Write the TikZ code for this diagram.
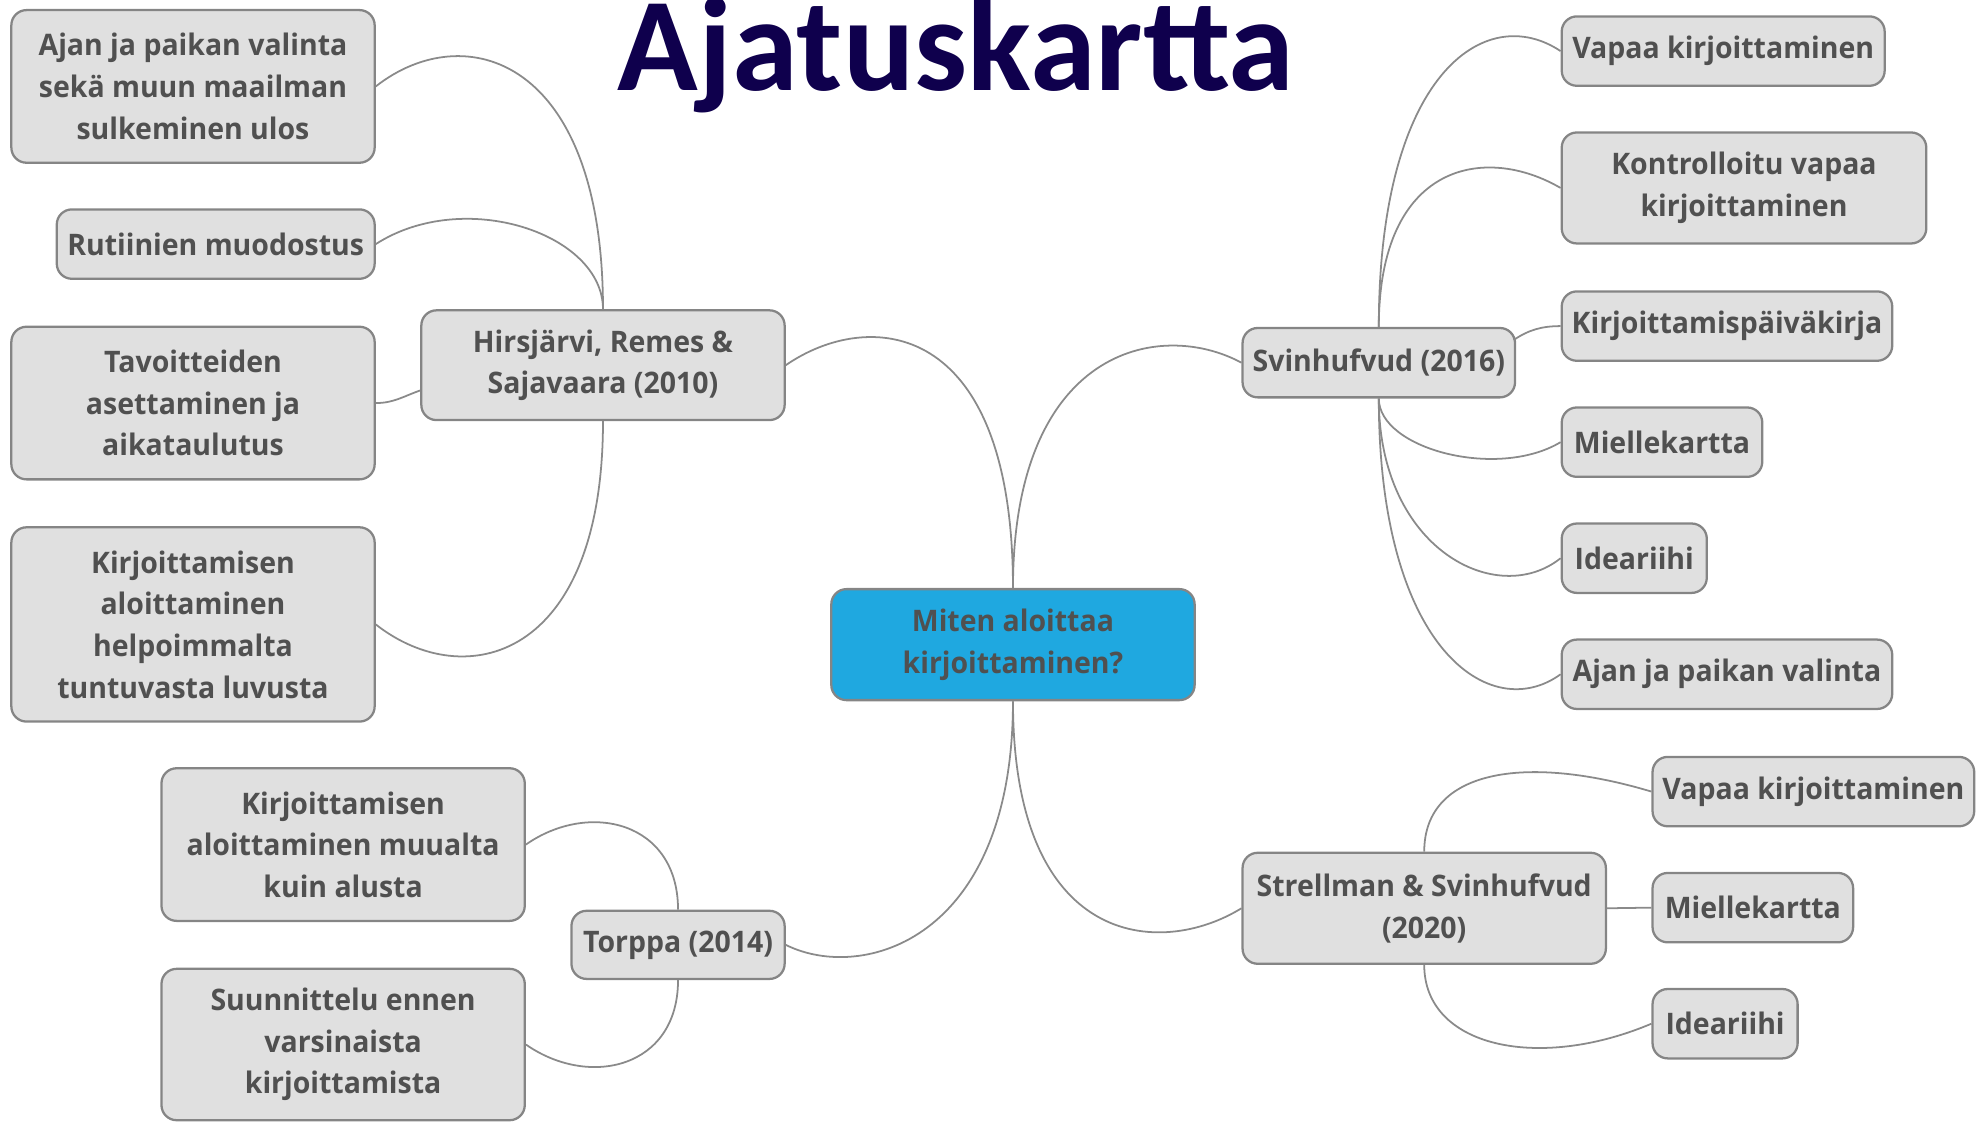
\documentclass[tikz,border=0pt]{standalone}
\usepackage{fontspec}
\setmainfont{Open Sans}[FakeStretch=0.96]
\newfontfamily\titlefont{Carlito}
\usetikzlibrary{calc}
\definecolor{boxfill}{HTML}{E0E0E0}
\definecolor{boxline}{HTML}{858585}
\definecolor{txt}{HTML}{505050}
\definecolor{cyanfill}{HTML}{1FA8E0}
\definecolor{linkc}{HTML}{8A8A8A}
\definecolor{titlec}{HTML}{0F004D}
\begin{document}
\begin{tikzpicture}[x=1pt,y=-1pt,
 topic/.style={draw=boxline, line width=1.8pt, fill=boxfill, rounded corners=12pt, text=txt,
   font=\fontsize{23.5}{33}\selectfont\bfseries, align=center, inner sep=0pt},
 sz/.style 2 args={minimum width=#1pt, minimum height=#2pt},
 link/.style={draw=linkc, line width=1.4pt}]
\useasboundingbox (0,0) rectangle (1568,889);

\node[font=\titlefont\fontsize{105.5}{110}\selectfont\bfseries, text=titlec, anchor=base, inner sep=0pt] (title) at (758,72) {Ajatuskartta};

% central
\node[topic, fill=cyanfill, sz={288}{88}] (C) at (803,511) {Miten aloittaa\\kirjoittaminen?};

% left upper branch
\node[topic, sz={288}{87}] (H) at (478,289.5) {Hirsjärvi, Remes \&\\Sajavaara (2010)};
\node[topic, sz={288}{121}] (L1) at (153,68.5) {Ajan ja paikan valinta\\sekä muun maailman\\sulkeminen ulos};
\node[topic, sz={252}{55}] (L2) at (171,193.5) {Rutiinien muodostus};
\node[topic, sz={288}{121}] (L3) at (153,319.5) {Tavoitteiden\\asettaminen ja\\aikataulutus};
\node[topic, sz={288}{154}] (L4) at (153,495) {Kirjoittamisen\\aloittaminen\\helpoimmalta\\tuntuvasta luvusta};

% left lower branch
\node[topic, sz={169}{54}] (T) at (537.5,749) {Torppa (2014)};
\node[topic, sz={288}{121}] (T1) at (272,669.5) {Kirjoittamisen\\aloittaminen muualta\\kuin alusta};
\node[topic, sz={288}{120}] (T2) at (272,828) {Suunnittelu ennen\\varsinaista\\kirjoittamista};

% right upper branch
\node[topic, sz={216}{55}] (S) at (1093,287.5) {Svinhufvud (2016)};
\node[topic, sz={256}{55}] (R1) at (1366,40.5) {Vapaa kirjoittaminen};
\node[topic, sz={289}{88}] (R2) at (1382.5,149) {Kontrolloitu vapaa\\kirjoittaminen};
\node[topic, sz={262}{55}] (R3) at (1369,258.5) {Kirjoittamispäiväkirja};
\node[topic, sz={159}{55}] (R4) at (1317.5,350.5) {Miellekartta};
\node[topic, sz={115}{55}] (R5) at (1295.5,442.5) {Ideariihi};
\node[topic, sz={262}{55}] (R6) at (1369,534.5) {Ajan ja paikan valinta};

% right lower branch
\node[topic, sz={288}{88}] (SS) at (1129,720) {Strellman \& Svinhufvud\\(2020)};
\node[topic, sz={255}{55}] (Q1) at (1437.5,627.5) {Vapaa kirjoittaminen};
\node[topic, sz={159}{55}] (Q2) at (1389.5,719.5) {Miellekartta};
\node[topic, sz={115}{55}] (Q3) at (1367.5,811.5) {Ideariihi};

% connectors from central
\draw[link] (C.north) .. controls ($(C.north)+(0,-215)$) and ($(H.east)+(65,-45)$) .. (H.east);
\draw[link] (C.south) .. controls ($(C.south)+(0,190)$) and ($(T.east)+(60,30)$) .. (T.east);
\draw[link] (C.north) .. controls ($(C.north)+(0,-190)$) and ($(S.west)+(-65,-35)$) .. (S.west);
\draw[link] (C.south) .. controls ($(C.south)+(0,195)$) and ($(SS.west)+(-65,40)$) .. (SS.west);

% Hirsjarvi children
\draw[link] (H.north) .. controls ($(H.north)+(0,-200)$) and ($(L1.east)+(70,-55)$) .. (L1.east);
\draw[link] (H.north) .. controls ($(H.north)+(0,-60)$) and ($(L2.east)+(70,-45)$) .. (L2.east);
\draw[link] ($(H.west)+(0,20)$) .. controls ($(H.west)+(-14,25)$) and ($(L3.east)+(14,0)$) .. (L3.east);
\draw[link] (H.south) .. controls ($(H.south)+(0,190)$) and ($(L4.east)+(70,55)$) .. (L4.east);

% Torppa children
\draw[link] (T.north) .. controls ($(T.north)+(0,-70)$) and ($(T1.east)+(50,-35)$) .. (T1.east);
\draw[link] (T.south) .. controls ($(T.south)+(0,70)$) and ($(T2.east)+(50,35)$) .. (T2.east);

% Svinhufvud children
\draw[link] (S.north) .. controls ($(S.north)+(0,-200)$) and ($(R1.west)+(-60,-40)$) .. (R1.west);
\draw[link] (S.north) .. controls ($(S.north)+(0,-130)$) and ($(R2.west)+(-60,-35)$) .. (R2.west);
\draw[link] ($(S.east)+(-2,-18)$) .. controls ($(S.east)+(10,-26)$) and ($(R3.west)+(-15,0)$) .. (R3.west);
\draw[link] (S.south) .. controls ($(S.south)+(0,40)$) and ($(R4.west)+(-50,30)$) .. (R4.west);
\draw[link] (S.south) .. controls ($(S.south)+(0,120)$) and ($(R5.west)+(-50,40)$) .. (R5.west);
\draw[link] (S.south) .. controls ($(S.south)+(0,200)$) and ($(R6.west)+(-55,40)$) .. (R6.west);

% Strellman children
\draw[link] (SS.north) .. controls ($(SS.north)+(0,-65)$) and ($(Q1.west)+(-100,-30)$) .. (Q1.west);
\draw[link] (SS.east) -- (Q2.west);
\draw[link] (SS.south) .. controls ($(SS.south)+(0,65)$) and ($(Q3.west)+(-90,38)$) .. (Q3.west);
\end{tikzpicture}
\end{document}
